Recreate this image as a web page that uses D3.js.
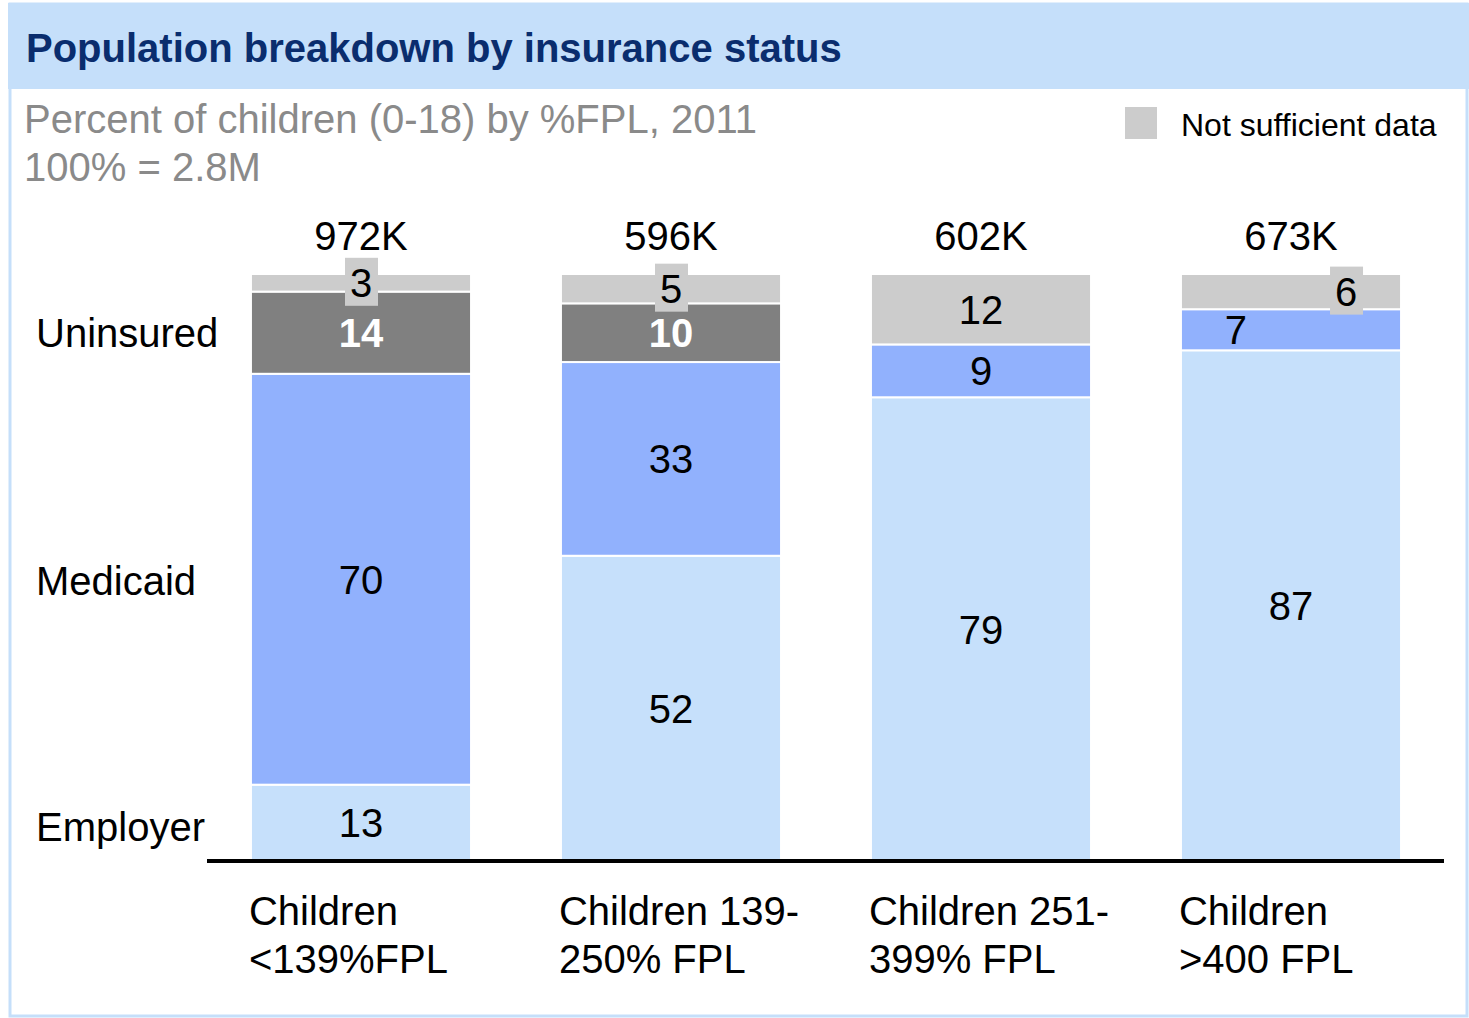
<!DOCTYPE html>
<html>
<head>
<meta charset="utf-8">
<script src="https://cdn.jsdelivr.net/npm/d3@7"></script>
<style>
  body { margin: 0; background: #ffffff; }
  svg { display: block; font-family: "Liberation Sans", Arial, sans-serif; }
</style>
</head>
<body>
<div id="chart"></div>
<script>
const categories = [["Children", "<139%FPL"], ["Children 139-", "250% FPL"], ["Children 251-", "399% FPL"], ["Children", ">400 FPL"]];
const totals = ["972K", "596K", "602K", "673K"];
const employer = [13, 52, 79, 87];
const medicaid = [70, 33, 9, 7];
const uninsured = [14, 10, 0, 0];
const notSufficient = [3, 5, 12, 6];
const rowLabels = ["Uninsured", "Medicaid", "Employer"];

function drawChart() {
    const width = 1469;
    const height = 1018;

    const svg = d3.select("#chart")
        .append("svg")
        .attr("width", width)
        .attr("height", height);

    // frame + title bar
    svg.append("rect")
        .attr("x", 10).attr("y", 4)
        .attr("width", width - 12).attr("height", height - 6)
        .attr("fill", "none")
        .attr("stroke", "#c5dffa")
        .attr("stroke-width", 3);

    svg.append("rect")
        .attr("x", 8).attr("y", 3)
        .attr("width", width - 8).attr("height", 86)
        .attr("fill", "#c5dffa");

    svg.append("text")
        .attr("x", 26).attr("y", 62)
        .style("font-size", "40px")
        .style("font-weight", "700")
        .style("fill", "#0a2d6e")
        .text("Population breakdown by insurance status");

    svg.append("text")
        .attr("x", 24).attr("y", 133)
        .style("font-size", "40px")
        .style("fill", "#8a8a8a")
        .text("Percent of children (0-18) by %FPL, 2011");

    svg.append("text")
        .attr("x", 24).attr("y", 181)
        .style("font-size", "40px")
        .style("fill", "#8a8a8a")
        .text("100% = 2.8M");

    // legend
    svg.append("rect")
        .attr("x", 1125).attr("y", 107)
        .attr("width", 32).attr("height", 32)
        .attr("fill", "#cccccc");

    svg.append("text")
        .attr("x", 1181).attr("y", 136)
        .style("font-size", "32px")
        .style("fill", "#000")
        .text("Not sufficient data");

    const series = [
        { key: "employer", values: employer, color: "#c6e0fb", text: "#000", weight: 400 },
        { key: "medicaid", values: medicaid, color: "#91b1fd", text: "#000", weight: 400 },
        { key: "uninsured", values: uninsured, color: "#808080", text: "#fff", weight: 700 },
        { key: "nsd", values: notSufficient, color: "#cccccc", text: "#000", weight: 400 }
    ];

    const rows = categories.map((c, i) => {
        const row = { index: i };
        series.forEach(s => { row[s.key] = s.values[i]; });
        return row;
    });

    const stack = d3.stack().keys(series.map(s => s.key));
    const stacked = stack(rows);

    const x = d3.scaleBand()
        .domain(d3.range(categories.length))
        .range([206, 1446])
        .paddingInner(0.29)
        .paddingOuter(0.145);

    const y = d3.scaleLinear()
        .domain([0, 100])
        .range([861, 274]);

    const layers = svg.selectAll(".layer")
        .data(stacked)
        .enter()
        .append("g")
        .attr("class", "layer");

    layers.each(function(layer, li) {
        const s = series[li];
        const g = d3.select(this);

        g.selectAll("rect")
            .data(layer.filter(d => d[1] - d[0] > 0))
            .enter()
            .append("rect")
            .attr("x", d => x(d.data.index))
            .attr("y", d => y(d[1]))
            .attr("width", x.bandwidth())
            .attr("height", d => y(d[0]) - y(d[1]))
            .attr("fill", s.color)
            .attr("stroke", "#ffffff")
            .attr("stroke-width", 2);
    });

    // segment labels
    layers.each(function(layer, li) {
        const s = series[li];
        const g = d3.select(this);
        const segs = layer.filter(d => d[1] - d[0] > 0);

        segs.forEach(d => {
            const v = d[1] - d[0];
            let cx = x(d.data.index) + x.bandwidth() / 2;
            const cy = (y(d[0]) + y(d[1])) / 2;
            const small = s.key === "nsd" && v < 8;

            if (s.key === "nsd" && d.data.index === 3) cx = x(d.data.index) + x.bandwidth() * 0.75;
            if (s.key === "medicaid" && d.data.index === 3) cx = x(d.data.index) + x.bandwidth() * 0.25;

            if (small) {
                g.append("rect")
                    .attr("x", cx - 16)
                    .attr("y", cy - 25)
                    .attr("width", 33)
                    .attr("height", 48)
                    .attr("fill", "#cccccc");
            }

            g.append("text")
                .attr("x", cx)
                .attr("y", cy)
                .attr("text-anchor", "middle")
                .attr("dy", "0.36em")
                .style("font-size", "40px")
                .style("font-weight", s.weight)
                .style("fill", s.text)
                .text(v);
        });
    });

    // totals above bars
    svg.selectAll(".total")
        .data(totals)
        .enter()
        .append("text")
        .attr("class", "total")
        .attr("x", (d, i) => x(i) + x.bandwidth() / 2)
        .attr("y", 250)
        .attr("text-anchor", "middle")
        .style("font-size", "40px")
        .text(d => d);

    // row labels
    const rowY = [333, 581, 827];
    svg.selectAll(".rowlabel")
        .data(rowLabels)
        .enter()
        .append("text")
        .attr("class", "rowlabel")
        .attr("x", 36)
        .attr("y", (d, i) => rowY[i])
        .attr("dy", "0.36em")
        .style("font-size", "40px")
        .text(d => d);

    // baseline
    svg.append("line")
        .attr("x1", 207).attr("x2", 1444)
        .attr("y1", 861).attr("y2", 861)
        .attr("stroke", "#000")
        .attr("stroke-width", 4);

    // category labels
    const cat = svg.selectAll(".cat")
        .data(categories)
        .enter()
        .append("text")
        .attr("class", "cat")
        .attr("x", (d, i) => x(i) - 2)
        .attr("y", 925)
        .style("font-size", "40px");

    cat.selectAll("tspan")
        .data(d => d)
        .enter()
        .append("tspan")
        .attr("x", function() { return d3.select(this.parentNode).attr("x"); })
        .attr("dy", (d, i) => i === 0 ? 0 : 48)
        .text(d => d);
}

drawChart();
</script>
</body>
</html>
